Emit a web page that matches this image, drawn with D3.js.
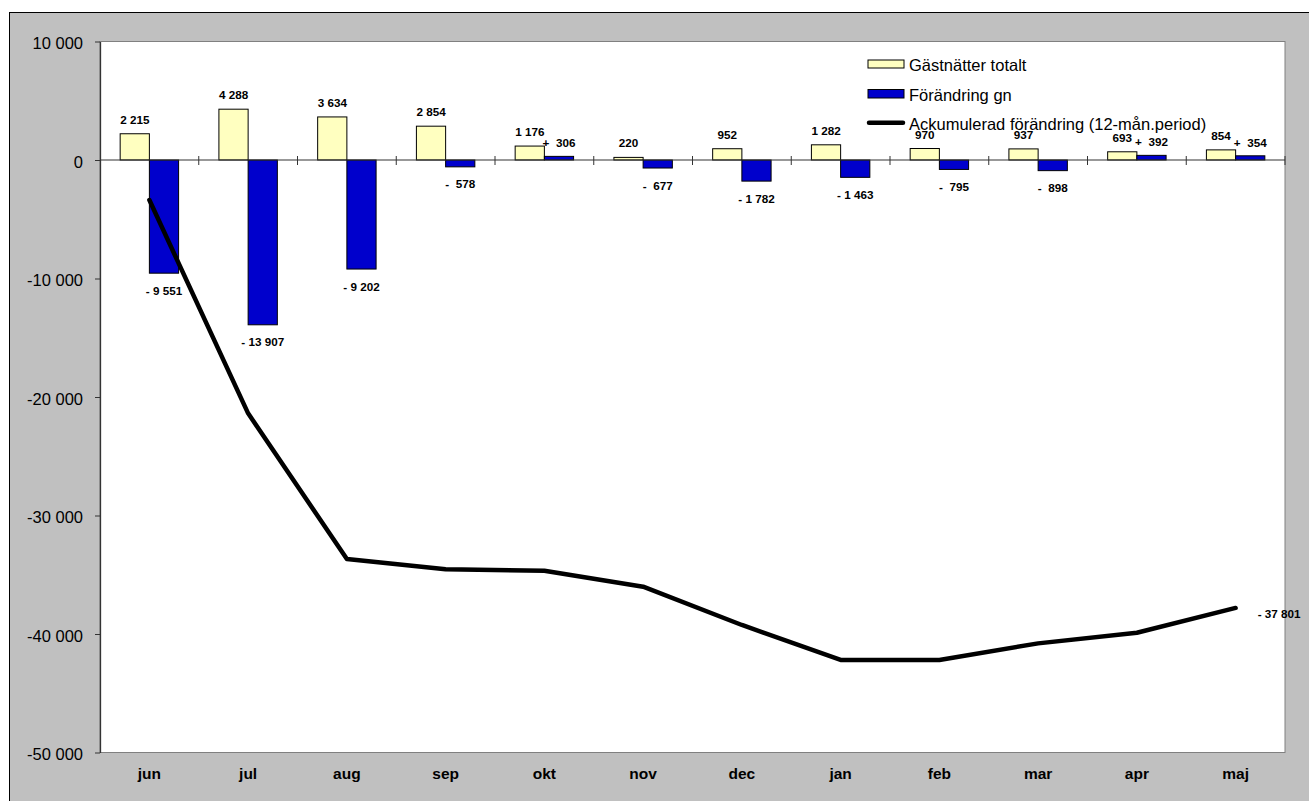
<!DOCTYPE html>
<html>
<head>
<meta charset="utf-8">
<script src="https://cdn.jsdelivr.net/npm/d3@7"></script>
<style>
  html, body { margin: 0; background: #fff; overflow: hidden; }
  svg { display: block; }
  text { font-family: "Liberation Sans", Arial, sans-serif; }
</style>
</head>
<body>
<svg id="chart" width="1309" height="801"></svg>
<script>
// data
const months = ["jun", "jul", "aug", "sep", "okt", "nov", "dec", "jan", "feb", "mar", "apr", "maj"];
const totals = [2215, 4288, 3634, 2854, 1176, 220, 952, 1282, 970, 937, 693, 854];
const changes = [-9551, -13907, -9202, -578, 306, -677, -1782, -1463, -795, -898, 392, 354];
const accum = [-3380, -21380, -33670, -34540, -34660, -36010, -39240, -42190, -42190, -40790, -39890, -37801];
const yTicks = [10000, 0, -10000, -20000, -30000, -40000, -50000];
const legendNames = ["Gästnätter totalt", "Förändring gn", "Ackumulerad förändring (12-mån.period)"];

const plot = {left: 100, right: 1285, top: 41.5, bottom: 752.5};
const yellow = "#ffffc0", blue = "#0000cc";

const locale = d3.formatLocale({decimal: ",", thousands: " ", grouping: [3], currency: ["", ""], minus: "-"});
const fmt = locale.format(",d");
// sign, then padding like the sheet's number format
const signed = v => (v < 0 ? "-" : "+") + (Math.abs(v) < 1000 ? "\u00a0\u00a0" : " ") + fmt(Math.abs(v));

const svg = d3.select("#chart");

// background + outer frame
svg.append("rect")
    .attr("x", 9.5).attr("y", 12.5)
    .attr("width", 1320).attr("height", 810)
    .attr("fill", "#c0c0c0")
    .attr("stroke", "#000");

svg.append("rect")
    .attr("x", plot.left).attr("y", plot.top)
    .attr("width", plot.right - plot.left).attr("height", plot.bottom - plot.top)
    .attr("fill", "#fff")
    .attr("stroke", "#808080");

// scales
const x0 = d3.scaleBand().domain(months).range([plot.left, plot.right]);
const x1 = d3.scaleBand().domain(["total", "change"]).range([0, x0.bandwidth()]).paddingOuter(0.69);
const y = d3.scaleLinear().domain([-50000, 10000]).range([plot.bottom, plot.top]);

// y axis
const yAxis = svg.append("g")
    .attr("transform", `translate(${plot.left},0)`)
    .call(d3.axisLeft(y).tickValues(yTicks).tickFormat(fmt).tickSize(5).tickSizeOuter(0));
yAxis.select(".domain").attr("stroke", "#333").attr("stroke-width", 1.3);
yAxis.selectAll(".tick line").attr("stroke", "#333");
yAxis.selectAll(".tick text")
    .attr("x", -17).attr("dy", "0.45em")
    .attr("font-size", "16.5px")
    .attr("fill", "#000");

// bars
const groups = svg.append("g").selectAll("g")
    .data(months)
    .join("g")
    .attr("transform", d => `translate(${x0(d)},0)`);

groups.append("rect")
    .attr("x", x1("total"))
    .attr("width", x1.bandwidth())
    .attr("y", (d, i) => y(Math.max(0, totals[i])))
    .attr("height", (d, i) => Math.abs(y(totals[i]) - y(0)))
    .attr("fill", yellow).attr("stroke", "#000").attr("stroke-width", 1);

groups.append("rect")
    .attr("x", x1("change"))
    .attr("width", x1.bandwidth())
    .attr("y", (d, i) => y(Math.max(0, changes[i])))
    .attr("height", (d, i) => Math.abs(y(changes[i]) - y(0)))
    .attr("fill", blue).attr("stroke", "#000").attr("stroke-width", 1);

// zero line + category ticks
svg.append("line")
    .attr("x1", plot.left).attr("x2", plot.right)
    .attr("y1", y(0)).attr("y2", y(0))
    .attr("stroke", "#333").attr("stroke-width", 1.2);

svg.append("g").selectAll("line")
    .data(months)
    .join("line")
    .attr("x1", d => x0(d) + x0.bandwidth()).attr("x2", d => x0(d) + x0.bandwidth())
    .attr("y1", y(0) - 4).attr("y2", y(0) + 5)
    .attr("stroke", "#333");

// legend
const legend = svg.append("g").attr("transform", "translate(868,0)");
legend.append("rect").attr("x", 0).attr("y", 60).attr("width", 36).attr("height", 8)
    .attr("fill", yellow).attr("stroke", "#000");
legend.append("rect").attr("x", 0).attr("y", 89.5).attr("width", 36).attr("height", 8.5)
    .attr("fill", blue).attr("stroke", "#000");
legend.append("line").attr("x1", 1).attr("x2", 35).attr("y1", 122.7).attr("y2", 122.7)
    .attr("stroke", "#000").attr("stroke-width", 4.5).attr("stroke-linecap", "round");
legend.selectAll("text")
    .data(legendNames)
    .join("text")
    .attr("x", 41)
    .attr("y", (d, i) => 71 + i * 29.5)
    .attr("font-size", "16.5px")
    .text(d => d);

// accumulated line
const line = d3.line()
    .x((d, i) => x0(months[i]) + x0.bandwidth() / 2)
    .y(d => y(d));

svg.append("path")
    .datum(accum)
    .attr("fill", "none")
    .attr("stroke", "#000")
    .attr("stroke-width", 4.5)
    .attr("stroke-linejoin", "round")
    .attr("stroke-linecap", "round")
    .attr("d", line);

// data labels
const labels = svg.append("g")
    .attr("font-size", "11.7px")
    .attr("font-weight", "bold")
    .attr("text-anchor", "middle");

labels.selectAll(".lt")
    .data(months)
    .join("text")
    .attr("class", "lt")
    .attr("x", d => x0(d) + x1("total") + x1.bandwidth() / 2)
    .attr("y", (d, i) => y(totals[i]) - 10)
    .text((d, i) => fmt(totals[i]));

labels.selectAll(".lc")
    .data(months)
    .join("text")
    .attr("class", "lc")
    .attr("x", d => x0(d) + x1("change") + x1.bandwidth() / 2)
    .attr("y", (d, i) => changes[i] < 0 ? y(changes[i]) + 21.5 : y(changes[i]) - 9)
    .text((d, i) => signed(changes[i]));

const last = accum.length - 1;
labels.append("text")
    .attr("text-anchor", "start")
    .attr("x", x0(months[last]) + x0.bandwidth() / 2 + 22)
    .attr("y", y(accum[last]) + 10.5)
    .text(signed(accum[last]));

// x labels
svg.append("g").selectAll("text")
    .data(months)
    .join("text")
    .attr("x", d => x0(d) + x0.bandwidth() / 2)
    .attr("y", 779)
    .attr("text-anchor", "middle")
    .attr("font-size", "15.5px")
    .attr("font-weight", "bold")
    .text(d => d);
</script>
</body>
</html>
